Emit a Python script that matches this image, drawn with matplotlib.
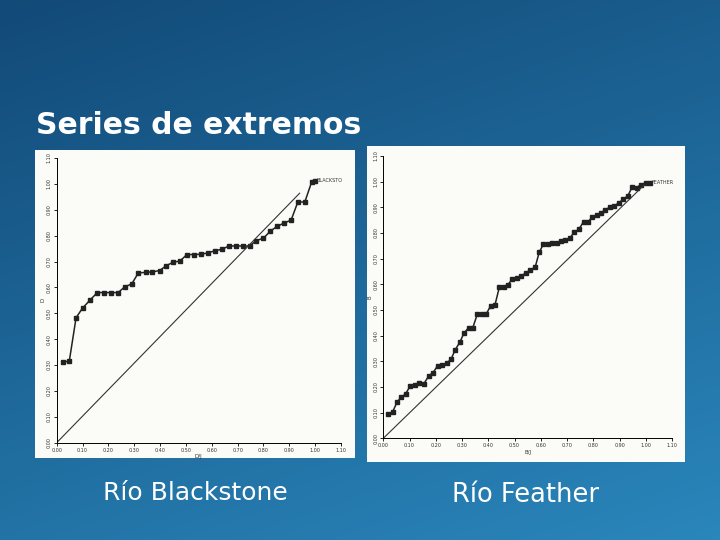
import numpy as np
import matplotlib.pyplot as plt

# Río Blackstone
bx = [0.026, 0.049, 0.075, 0.10, 0.128, 0.157, 0.184, 0.21, 0.238, 0.264, 0.29, 0.316,
      0.344, 0.37, 0.398, 0.424, 0.45, 0.477, 0.504, 0.53, 0.557, 0.585, 0.612, 0.639,
      0.666, 0.693, 0.72, 0.747, 0.772, 0.80, 0.826, 0.853, 0.88, 0.907, 0.933, 0.96,
      0.987, 1.0]
by = [0.31, 0.317, 0.483, 0.52, 0.55, 0.58, 0.58, 0.58, 0.58, 0.603, 0.613, 0.656,
      0.658, 0.66, 0.665, 0.684, 0.697, 0.702, 0.727, 0.727, 0.728, 0.733, 0.742, 0.747,
      0.76, 0.76, 0.76, 0.76, 0.781, 0.79, 0.817, 0.836, 0.849, 0.86, 0.93, 0.93,
      1.009, 1.013]
# Río Feather
fx = [0.019, 0.036, 0.052, 0.068, 0.085, 0.103, 0.12, 0.137, 0.155, 0.173, 0.19, 0.207,
      0.225, 0.241, 0.258, 0.274, 0.292, 0.307, 0.325, 0.341, 0.358, 0.376, 0.392, 0.409,
      0.425, 0.442, 0.458, 0.475, 0.492, 0.509, 0.525, 0.543, 0.56, 0.579, 0.594, 0.61,
      0.627, 0.643, 0.66, 0.677, 0.693, 0.71, 0.728, 0.745, 0.763, 0.78, 0.797, 0.813,
      0.83, 0.846, 0.863, 0.879, 0.897, 0.914, 0.932, 0.948, 0.966, 0.981, 1.0, 1.015]
fy = [0.094, 0.104, 0.14, 0.16, 0.173, 0.205, 0.206, 0.214, 0.213, 0.243, 0.256, 0.283,
      0.286, 0.292, 0.308, 0.345, 0.375, 0.409, 0.431, 0.431, 0.483, 0.483, 0.484, 0.516,
      0.518, 0.588, 0.591, 0.599, 0.621, 0.623, 0.631, 0.645, 0.655, 0.668, 0.725, 0.756,
      0.758, 0.76, 0.76, 0.769, 0.773, 0.779, 0.804, 0.814, 0.844, 0.844, 0.862, 0.869,
      0.879, 0.891, 0.9, 0.905, 0.917, 0.931, 0.945, 0.979, 0.977, 0.988, 0.996, 0.996]
ticks = np.round(np.arange(0, 1.11, 0.1), 2)

W, H = 720, 540
fig = plt.figure(figsize=(7.2, 5.4), dpi=100)

# fondo azul degradado
bg = fig.add_axes([0, 0, 1, 1])
yy, xx = np.mgrid[0:1:200j, 0:1:200j]
grad = 0.55 * yy + 0.25 * xx
bg.imshow(grad, cmap=plt.matplotlib.colors.LinearSegmentedColormap.from_list(
    'b', ['#124a78', '#2a86bb']), extent=[0, 1, 0, 1], aspect='auto', origin='upper')
bg.axis('off')
bg.set_xlim(0, 1)
bg.set_ylim(0, 1)

fig.text(36 / W, 1 - 125 / H, 'Series de extremos', color='white', fontsize=21.5,
         fontweight='bold', va='center', ha='left')
fig.text(195 / W, 1 - 493 / H, 'Río Blackstone', color='white', fontsize=18, ha='center', va='center')
fig.text(526 / W, 1 - 495 / H, 'Río Feather', color='white', fontsize=18.5, ha='center', va='center')


def px_rect(x0, y0, x1, y1):
    return [x0 / W, 1 - y1 / H, (x1 - x0) / W, (y1 - y0) / H]


def panel(frame, inner, x, y, diag_end, label, xlabel, ylabel):
    paper = fig.add_axes(px_rect(*frame))
    paper.set_facecolor('#fbfbf8')
    paper.set_xticks([])
    paper.set_yticks([])
    for s in paper.spines.values():
        s.set_visible(False)
    ax = fig.add_axes(px_rect(*inner))
    ax.patch.set_alpha(0)
    ax.plot(x, y, color='#222222', lw=1.1, marker='s', ms=2.5)
    ax.plot([0, diag_end[0]], [0, diag_end[1]], color='#333333', lw=0.8)
    ax.text(x[-1] + 0.005, y[-1], label, fontsize=3.5, color='#333333', va='center')
    ax.set_xlim(0, 1.1)
    ax.set_ylim(0, 1.1)
    ax.set_xticks(ticks)
    ax.set_yticks(ticks)
    ax.set_xticklabels([f'{t:.2f}' for t in ticks], fontsize=3.5, color='#333333')
    ax.set_yticklabels([f'{t:.2f}' for t in ticks], fontsize=3.5, color='#333333', rotation=90, va='center')
    ax.tick_params(length=2, width=0.6, pad=1.5)
    ax.set_xlabel(xlabel, fontsize=4, labelpad=1, color='#333333')
    ax.set_ylabel(ylabel, fontsize=4, labelpad=1, color='#333333')
    for s in ['top', 'right']:
        ax.spines[s].set_visible(False)
    for s in ['left', 'bottom']:
        ax.spines[s].set_linewidth(0.7)


panel((35, 150, 355, 458), (56.7, 158, 341, 442.7), bx, by, (0.94, 0.964), 'BLACKSTO', 'D/J', 'D')
panel((367, 146, 685, 462), (383.3, 156, 672, 438.3), fx, fy, (0.994, 0.987), 'FEATHER', 'B/J', 'B')

fig.savefig('out.png', dpi=100)
